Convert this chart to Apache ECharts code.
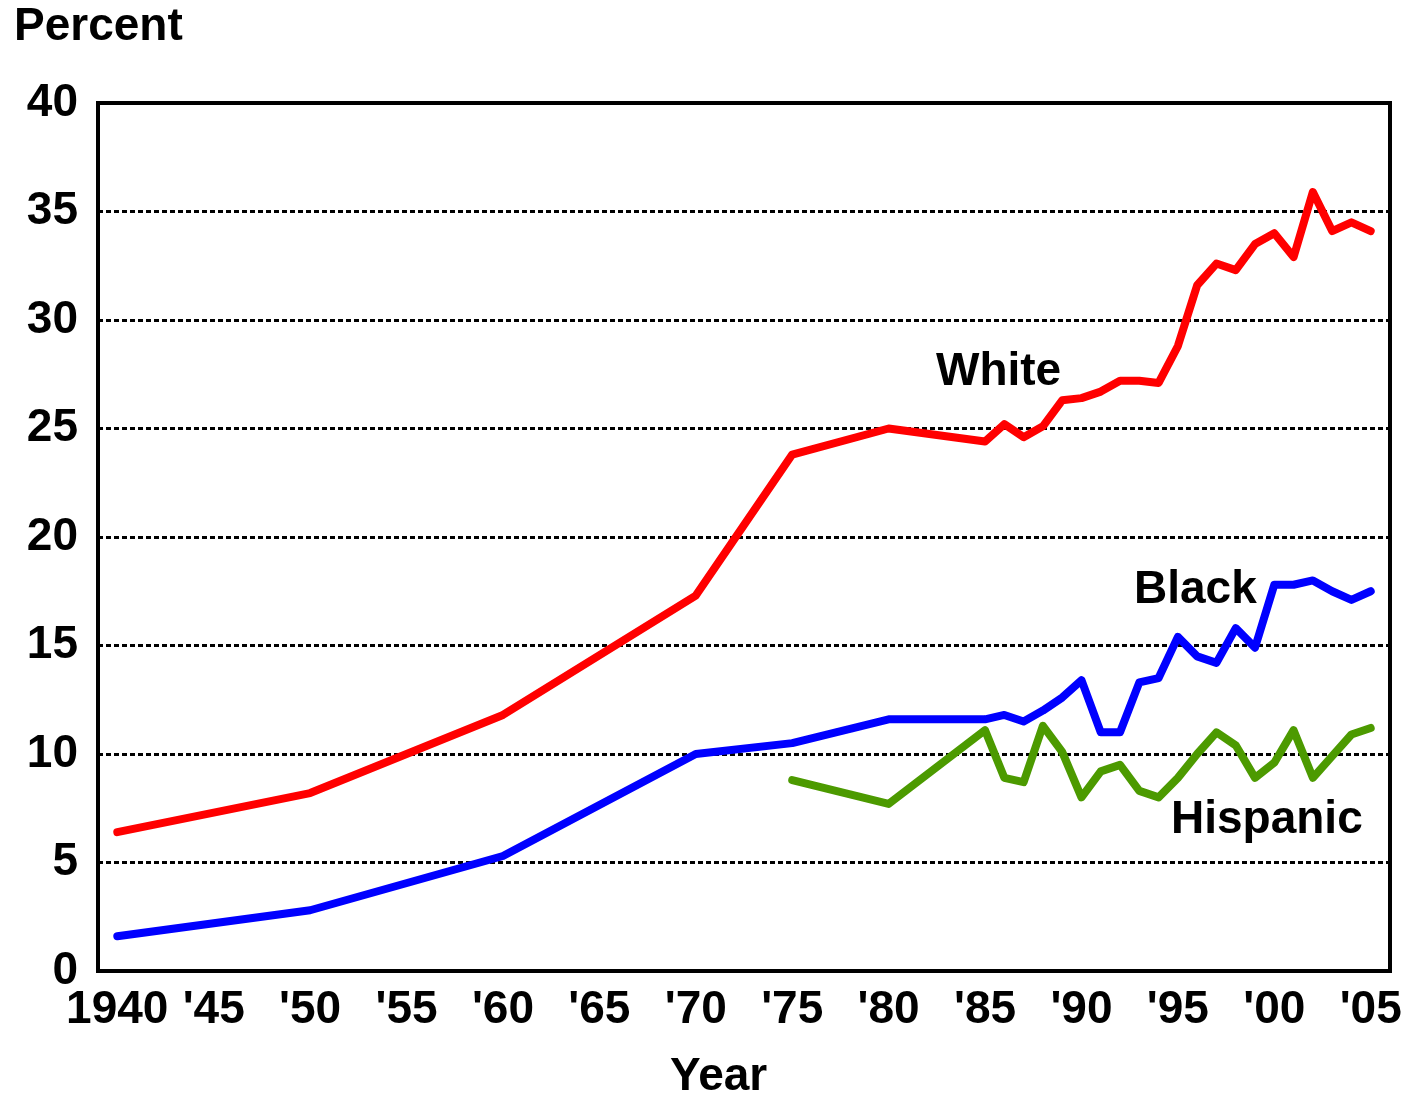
<!DOCTYPE html>
<html>
<head>
<meta charset="utf-8">
<script src="https://cdn.jsdelivr.net/npm/echarts@6/dist/echarts.min.js"></script>
<style>
html,body{margin:0;padding:0;background:#fff;}
#chart{width:1406px;height:1098px;}
</style>
</head>
<body>
<div id="chart"></div>
<script>
const years = [1940, 1950, 1960, 1970, 1975, 1980, 1985, 1986, 1987, 1988, 1989, 1990, 1991, 1992, 1993, 1994, 1995, 1996, 1997, 1998, 1999, 2000, 2001, 2002, 2003, 2004, 2005];
const whiteValues = [6.4, 8.2, 11.8, 17.3, 23.8, 25.0, 24.4, 25.2, 24.6, 25.1, 26.3, 26.4, 26.7, 27.2, 27.2, 27.1, 28.8, 31.6, 32.6, 32.3, 33.5, 34.0, 32.9, 35.9, 34.1, 34.5, 34.1];
const blackValues = [1.6, 2.8, 5.3, 10.0, 10.5, 11.6, 11.6, 11.8, 11.5, 12.0, 12.6, 13.4, 11.0, 11.0, 13.3, 13.5, 15.4, 14.5, 14.2, 15.8, 14.9, 17.8, 17.8, 18.0, 17.5, 17.1, 17.5];
const hispanicYears = [1975, 1980, 1985, 1986, 1987, 1988, 1989, 1990, 1991, 1992, 1993, 1994, 1995, 1996, 1997, 1998, 1999, 2000, 2001, 2002, 2003, 2004, 2005];
const hispanicValues = [8.8, 7.7, 11.1, 8.9, 8.7, 11.3, 10.1, 8.0, 9.2, 9.5, 8.3, 8.0, 8.9, 10.0, 11.0, 10.4, 8.9, 9.6, 11.1, 8.9, 9.9, 10.9, 11.2];
const xTicks = [1940, 1945, 1950, 1955, 1960, 1965, 1970, 1975, 1980, 1985, 1990, 1995, 2000, 2005];
const xTickLabels = ['1940', "'45", "'50", "'55", "'60", "'65", "'70", "'75", "'80", "'85", "'90", "'95", "'00", "'05"];
const seriesNames = ['White', 'Black', 'Hispanic'];

const FONT = '"Liberation Sans", Arial, sans-serif';
const pair = (xs, ys) => xs.map((x, i) => [x, ys[i]]);

const chart = echarts.init(document.getElementById('chart'));
chart.setOption({
  animation: false,
  backgroundColor: '#fff',
  grid: {left: 98, right: 16, top: 103, bottom: 127, containLabel: false, outerBoundsMode: 'none', show: true, borderColor: '#000', borderWidth: 4, backgroundColor: 'transparent'},
  xAxis: {
    type: 'value', min: 1939, max: 2006,
    axisLine: {show: false},
    axisTick: {show: false},
    splitLine: {show: false},
    axisLabel: {
      customValues: xTicks,
      formatter: v => xTickLabels[xTicks.indexOf(v)] || '',
      fontFamily: FONT, fontWeight: 'bold', fontSize: 46, color: '#000', margin: 16
    }
  },
  yAxis: {
    type: 'value', min: 0, max: 40, interval: 5,
    axisLine: {show: false},
    axisTick: {show: false},
    axisLabel: {fontFamily: FONT, fontWeight: 'bold', fontSize: 46, color: '#000', margin: 20},
    splitLine: {show: true, lineStyle: {color: '#000', width: 3, type: [5, 3]}}
  },
  graphic: [
    {type: 'text', left: 14, top: 4, style: {text: 'Percent', font: 'bold 46px ' + FONT, fill: '#000'}},
    {type: 'text', left: 670, top: 1054, style: {text: 'Year', font: 'bold 46px ' + FONT, fill: '#000'}},
    {type: 'text', left: 936, top: 349, style: {text: seriesNames[0], font: 'bold 46px ' + FONT, fill: '#000'}},
    {type: 'text', left: 1134, top: 567, style: {text: seriesNames[1], font: 'bold 46px ' + FONT, fill: '#000'}},
    {type: 'text', left: 1171, top: 797, style: {text: seriesNames[2], font: 'bold 46px ' + FONT, fill: '#000'}}
  ],
  series: [
    {name: seriesNames[0], type: 'line', data: pair(years, whiteValues), showSymbol: false, lineStyle: {color: '#ff0000', width: 8, cap: 'round', join: 'round'}, z: 3},
    {name: seriesNames[1], type: 'line', data: pair(years, blackValues), showSymbol: false, lineStyle: {color: '#0000ff', width: 8, cap: 'round', join: 'round'}, z: 3},
    {name: seriesNames[2], type: 'line', data: pair(hispanicYears, hispanicValues), showSymbol: false, lineStyle: {color: '#4c9a00', width: 8, cap: 'round', join: 'round'}, z: 3}
  ]
});
</script>
</body>
</html>
